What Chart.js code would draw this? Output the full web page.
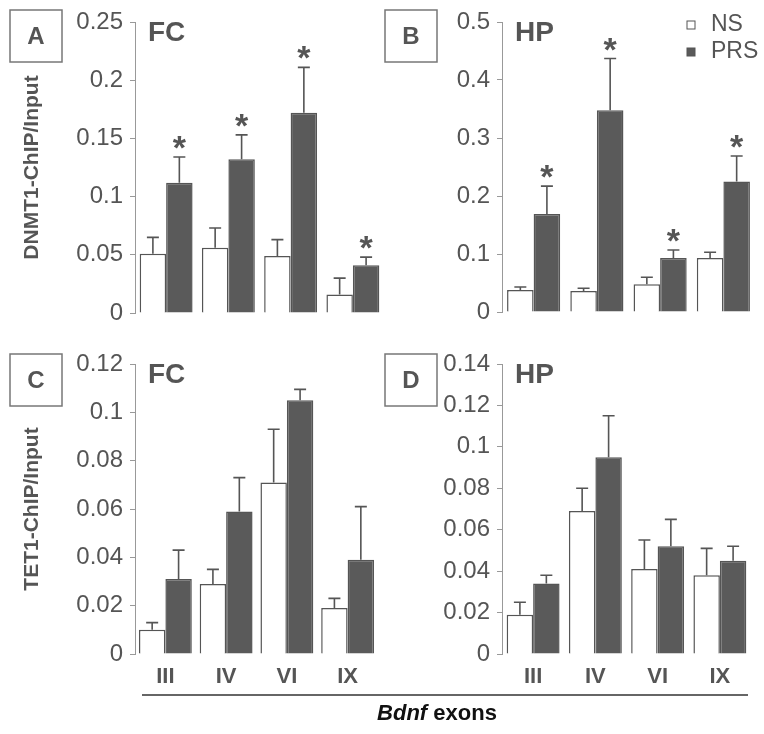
<!DOCTYPE html>
<html>
<head>
<meta charset="utf-8">
<script src="https://cdn.jsdelivr.net/npm/chart.js@4.4.0/dist/chart.umd.min.js"></script>
<style>
  body { margin: 0; background: #fff; }
  #wrap { position: relative; width: 764px; height: 734px; }
  canvas { position: absolute; }
  #exonline { position: absolute; left: 142px; top: 694px; width: 606px; height: 0; border-top: 2px solid #666; }
  #caption { position: absolute; left: 327px; width: 220px; top: 700px; text-align: center;
             font: bold 22px 'Liberation Sans', Arial, sans-serif; color: #111; }
</style>
</head>
<body>
<div id="wrap">
  <canvas id="cA" width="384" height="340" style="left:0;top:0"></canvas>
  <canvas id="cB" width="380" height="340" style="left:384px;top:0"></canvas>
  <canvas id="cC" width="384" height="394" style="left:0;top:340px"></canvas>
  <canvas id="cD" width="380" height="394" style="left:384px;top:340px"></canvas>
  <div id="exonline"></div>
  <div id="caption"><i>Bdnf</i> exons</div>
</div>
<script>
const exons = ['III', 'IV', 'VI', 'IX'];

// A: DNMT1, frontal cortex
const dnmtFcNS = [0.051, 0.056, 0.049, 0.016];
const dnmtFcPRS = [0.112, 0.132, 0.172, 0.041];
const dnmtFcNSerr = [0.014, 0.017, 0.014, 0.014];
const dnmtFcPRSerr = [0.022, 0.021, 0.039, 0.007];
const dnmtFcSig = [true, true, true, true];

// B: DNMT1, hippocampus
const dnmtHpNS = [0.038, 0.036, 0.048, 0.093];
const dnmtHpPRS = [0.169, 0.348, 0.093, 0.225];
const dnmtHpNSerr = [0.005, 0.005, 0.012, 0.010];
const dnmtHpPRSerr = [0.048, 0.089, 0.014, 0.044];
const dnmtHpSig = [true, true, true, true];

// C: TET1, frontal cortex
const tetFcNS = [0.010, 0.029, 0.071, 0.019];
const tetFcPRS = [0.031, 0.059, 0.105, 0.039];
const tetFcNSerr = [0.003, 0.006, 0.022, 0.004];
const tetFcPRSerr = [0.012, 0.014, 0.0045, 0.022];
const tetFcSig = [false, false, false, false];

// D: TET1, hippocampus
const tetHpNS = [0.019, 0.069, 0.041, 0.038];
const tetHpPRS = [0.034, 0.095, 0.052, 0.045];
const tetHpNSerr = [0.006, 0.011, 0.014, 0.013];
const tetHpPRSerr = [0.004, 0.020, 0.013, 0.007];
const tetHpSig = [false, false, false, false];

const narrow = "'Liberation Sans Narrow', 'Arial Narrow', 'Liberation Sans', sans-serif";
const ink = '#555555';
const barDark = '#5a5a5a';

// error bars, stars, panel letter, region title, legend
const decorations = {
    id: 'decorations',
    afterDatasetsDraw(chart) {
        const ctx = chart.ctx;
        const yScale = chart.scales.y;
        ctx.save();
        chart.data.datasets.forEach((ds, i) => {
            const meta = chart.getDatasetMeta(i);
            meta.data.forEach((bar, j) => {
                const top = yScale.getPixelForValue(ds.data[j] + ds.errors[j]);
                ctx.strokeStyle = ink;
                ctx.lineWidth = 1.6;
                ctx.beginPath();
                ctx.moveTo(bar.x, bar.y);
                ctx.lineTo(bar.x, top);
                ctx.moveTo(bar.x - 6, top);
                ctx.lineTo(bar.x + 6, top);
                ctx.stroke();
                if (ds.stars && ds.stars[j]) {
                    ctx.fillStyle = ink;
                    ctx.font = 'bold 34px ' + narrow;
                    ctx.textAlign = 'center';
                    ctx.textBaseline = 'alphabetic';
                    const m = ctx.measureText('*');
                    ctx.fillText('*', bar.x, top - 8 - m.actualBoundingBoxDescent);
                }
            });
        });
        ctx.restore();
    },
    afterDraw(chart) {
        const ctx = chart.ctx;
        const o = chart.options.plugins.decorations;
        const area = chart.chartArea;
        ctx.save();
        // panel letter box
        ctx.strokeStyle = '#777';
        ctx.lineWidth = 1.5;
        ctx.strokeRect(o.box[0], o.box[1], 52, 52);
        ctx.fillStyle = ink;
        ctx.font = 'bold 24px ' + narrow;
        ctx.textAlign = 'center';
        ctx.textBaseline = 'middle';
        ctx.fillText(o.letter, o.box[0] + 26, o.box[1] + 27);
        // region title
        ctx.font = 'bold 28px ' + narrow;
        ctx.textAlign = 'left';
        ctx.textBaseline = 'alphabetic';
        ctx.fillText(o.region, area.left + 13, area.top + 19);
        // legend
        if (o.legend) {
            ctx.font = '23px ' + narrow;
            ctx.textBaseline = 'middle';
            chart.data.datasets.forEach((ds, i) => {
                const y = 25 + i * 27;
                const x = area.right - 68;
                ctx.fillStyle = ds.backgroundColor;
                ctx.fillRect(x, y - 4, 8, 8);
                ctx.strokeStyle = ink;
                ctx.lineWidth = 1;
                ctx.strokeRect(x, y - 4, 8, 8);
                ctx.fillStyle = ink;
                ctx.fillText(ds.label, x + 24, y);
            });
        }
        ctx.restore();
    }
};

function makePanel(id, p) {
    new Chart(document.getElementById(id), {
        type: 'bar',
        data: {
            labels: exons,
            datasets: [{
                label: 'NS',
                data: p.ns,
                errors: p.nsErr,
                backgroundColor: '#ffffff',
                borderColor: ink,
                borderWidth: 1.5
            }, {
                label: 'PRS',
                data: p.prs,
                errors: p.prsErr,
                stars: p.sig,
                backgroundColor: barDark,
                borderColor: ink,
                borderWidth: 1.5
            }]
        },
        options: {
            responsive: false,
            animation: false,
            events: [],
            categoryPercentage: p.catPct,
            barPercentage: 1.0,
            layout: { padding: p.pad },
            plugins: {
                legend: { display: false },
                tooltip: { enabled: false },
                decorations: { letter: p.letter, region: p.region, box: p.box, legend: p.legend }
            },
            scales: {
                x: {
                    display: p.showX,
                    grid: { display: false, drawTicks: false },
                    border: { display: false },
                    ticks: { color: ink, font: { family: narrow, size: 22, weight: 'bold' }, padding: 10 },
                    afterFit: s => { if (p.showX) s.height = 40; }
                },
                y: {
                    min: 0,
                    max: p.max,
                    ticks: {
                        stepSize: p.step,
                        color: ink,
                        padding: 7,
                        font: { family: narrow, size: 24 },
                        callback: p.fmt
                    },
                    grid: { drawOnChartArea: false, color: '#999', tickLength: 5 },
                    border: { color: '#999', width: 1 },
                    title: {
                        display: !!p.yTitle,
                        text: p.yTitle || '',
                        color: ink,
                        font: { family: narrow, size: 21, weight: 'bold' },
                        padding: { top: 20, bottom: 0 }
                    },
                    afterFit: s => { s.width = p.yWidth; }
                }
            }
        },
        plugins: [decorations]
    });
}

const plain = v => String(+v.toFixed(3));
const everyOther = v => (Math.round(v * 100) % 10 === 0 ? String(+v.toFixed(2)) : '');

makePanel('cA', {
    ns: dnmtFcNS, prs: dnmtFcPRS, nsErr: dnmtFcNSerr, prsErr: dnmtFcPRSerr, sig: dnmtFcSig,
    max: 0.25, step: 0.05, fmt: plain, yTitle: 'DNMT1-ChIP/Input', yWidth: 135,
    letter: 'A', region: 'FC', box: [10, 10], legend: false, showX: false,
    catPct: 0.85, pad: { left: 0, top: 22, right: 0, bottom: 27 }
});
makePanel('cB', {
    ns: dnmtHpNS, prs: dnmtHpPRS, nsErr: dnmtHpNSerr, prsErr: dnmtHpPRSerr, sig: dnmtHpSig,
    max: 0.5, step: 0.05, fmt: everyOther, yTitle: null, yWidth: 118,
    letter: 'B', region: 'HP', box: [1, 10], legend: true, showX: false,
    catPct: 0.84, pad: { left: 0, top: 22, right: 9, bottom: 28 }
});
makePanel('cC', {
    ns: tetFcNS, prs: tetFcPRS, nsErr: tetFcNSerr, prsErr: tetFcPRSerr, sig: tetFcSig,
    max: 0.12, step: 0.02, fmt: plain, yTitle: 'TET1-ChIP/Input', yWidth: 135,
    letter: 'C', region: 'FC', box: [10, 14], legend: false, showX: true,
    catPct: 0.87, pad: { left: 0, top: 24, right: 6, bottom: 40 }
});
makePanel('cD', {
    ns: tetHpNS, prs: tetHpPRS, nsErr: tetHpNSerr, prsErr: tetHpPRSerr, sig: tetHpSig,
    max: 0.14, step: 0.02, fmt: plain, yTitle: null, yWidth: 118,
    letter: 'D', region: 'HP', box: [1, 14], legend: false, showX: true,
    catPct: 0.85, pad: { left: 0, top: 24, right: 13, bottom: 40 }
});
</script>
</body>
</html>
